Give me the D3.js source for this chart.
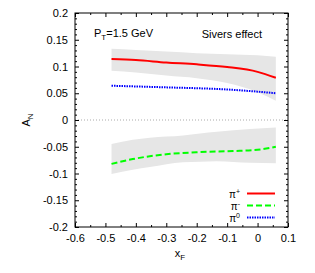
<!DOCTYPE html>
<html><head><meta charset="utf-8">
<script src="https://cdn.jsdelivr.net/npm/d3@7"></script>
<style>body{margin:0;background:#fff}svg text{font-family:"Liberation Sans",Arial,sans-serif;}</style>
</head><body><svg id="c" width="315" height="273"></svg>
<script>
const xTicks=[-0.6,-0.5,-0.4,-0.3,-0.2,-0.1,0,0.1];
const yTicks=[-0.2,-0.15,-0.1,-0.05,0,0.05,0.1,0.15,0.2];
const xTickLabels=["-0.6","-0.5","-0.4","-0.3","-0.2","-0.1","0","0.1"];
const yTickLabels=["-0.2","-0.15","-0.1","-0.05","0","0.05","0.1","0.15","0.2"];
// pi+ curve and band
const piPlusX=[-0.48,-0.4,-0.3,-0.2,-0.1,0,0.06];
const piPlus=[0.114,0.112,0.1075,0.104,0.099,0.090,0.079];
const piPlusBandX=[-0.48,-0.4,-0.3,-0.2,-0.1,0,0.06];
const piPlusHi=[0.133,0.131,0.128,0.125,0.123,0.121,0.118];
const piPlusLo=[0.092,0.089,0.083,0.078,0.069,0.052,0.036];
// pi- curve and band
const piMinusX=[-0.48,-0.41,-0.3,-0.19,-0.08,0.01,0.06];
const piMinus=[-0.082,-0.073,-0.064,-0.060,-0.058,-0.055,-0.050];
const piMinusBandX=[-0.48,-0.41,-0.354,-0.245,-0.189,-0.134,-0.025,0.06];
const piMinusHi=[-0.045,-0.037,-0.033,-0.029,-0.025,-0.022,-0.017,-0.014];
const piMinusLo=[-0.101,-0.093,-0.088,-0.079,-0.078,-0.077,-0.080,-0.081];
// pi0 curve
const piZeroX=[-0.48,-0.3,-0.1,0,0.06];
const piZero=[0.064,0.061,0.057,0.053,0.050];

const svg=d3.select("#c");
const L=75,R=288,T=13,B=227;
const x=d3.scaleLinear().domain([-0.6,0.1]).range([L,R]);
const y=d3.scaleLinear().domain([-0.2,0.2]).range([B,T]);

function band(xs,lo,hi){
  const a=d3.area().x((d,i)=>x(xs[i])).y0((d,i)=>y(lo[i])).y1((d,i)=>y(hi[i])).curve(d3.curveMonotoneX);
  svg.append("path").attr("d",a(xs)).attr("fill","#e6e6e6");
}
band(piPlusBandX,piPlusLo,piPlusHi);
band(piMinusBandX,piMinusLo,piMinusHi);

// zero line
svg.append("line").attr("x1",L).attr("x2",R).attr("y1",y(0)).attr("y2",y(0))
  .attr("stroke","#aaa").attr("stroke-width",1).attr("stroke-dasharray","1,2");

function curve(xs,ys,color,dash){
  const l=d3.line().x((d,i)=>x(xs[i])).y((d,i)=>y(ys[i])).curve(d3.curveMonotoneX);
  const p=svg.append("path").attr("d",l(xs)).attr("fill","none").attr("stroke",color).attr("stroke-width",2);
  if(dash)p.attr("stroke-dasharray",dash);
}
curve(piPlusX,piPlus,"#ff0000",null);
curve(piMinusX,piMinus,"#00ff00","6,3");
curve(piZeroX,piZero,"#0000ff","1.5,1");

// axes
const fs="11px";
svg.append("g").attr("transform",`translate(0,${B})`).call(d3.axisBottom(x).tickValues(xTicks).tickSizeInner(-4).tickSizeOuter(0).tickPadding(7).tickFormat((d,i)=>xTickLabels[i]));
svg.append("g").attr("transform",`translate(0,${T})`).call(d3.axisTop(x).tickValues(xTicks).tickSizeInner(-4).tickSizeOuter(0).tickFormat(""));
svg.append("g").attr("transform",`translate(${L},0)`).call(d3.axisLeft(y).tickValues(yTicks).tickSizeInner(-4).tickSizeOuter(0).tickPadding(7).tickFormat((d,i)=>yTickLabels[i]));
svg.append("g").attr("transform",`translate(${R},0)`).call(d3.axisRight(y).tickValues(yTicks).tickSizeInner(-4).tickSizeOuter(0).tickFormat(""));
// minor ticks
const xMinor=d3.range(-0.55,0.1,0.1);
svg.append("g").attr("transform",`translate(0,${B})`).call(d3.axisBottom(x).tickValues(xMinor).tickSizeInner(-2).tickSizeOuter(0).tickFormat(""));
svg.append("g").attr("transform",`translate(0,${T})`).call(d3.axisTop(x).tickValues(xMinor).tickSizeInner(-2).tickSizeOuter(0).tickFormat(""));
const yMinor=d3.range(-19,20).filter(v=>v%5!==0).map(v=>v/100);
svg.append("g").attr("transform",`translate(${L},0)`).call(d3.axisLeft(y).tickValues(yMinor).tickSizeInner(-2).tickSizeOuter(0).tickFormat(""));
svg.append("g").attr("transform",`translate(${R},0)`).call(d3.axisRight(y).tickValues(yMinor).tickSizeInner(-2).tickSizeOuter(0).tickFormat(""));
svg.selectAll(".domain").remove();
svg.selectAll(".tick text").attr("font-size",fs).attr("font-family","Liberation Sans, Arial, sans-serif").attr("fill","#000");
svg.selectAll(".tick line").attr("stroke","#000");
svg.append("rect").attr("x",L).attr("y",T).attr("width",R-L).attr("height",B-T).attr("fill","none").attr("stroke","#000").attr("stroke-width",1);

// titles
const xt=svg.append("text").attr("x",180).attr("y",257).attr("font-size",fs).attr("text-anchor","middle");
xt.append("tspan").text("x");
xt.append("tspan").attr("font-size","8px").attr("dy",3).text("F");
const yt=svg.append("text").attr("transform","translate(30,120) rotate(-90)").attr("font-size",fs).attr("text-anchor","middle");
yt.append("tspan").text("A");
yt.append("tspan").attr("font-size","8px").attr("dy",3).text("N");

const pt=svg.append("text").attr("x",94).attr("y",37).attr("font-size",fs);
pt.append("tspan").text("P");
pt.append("tspan").attr("font-size","8px").attr("dy",3).text("T");
pt.append("tspan").attr("dy",-3).text("=1.5 GeV");
svg.append("text").attr("x",262).attr("y",38).attr("font-size",fs).attr("text-anchor","end").text("Sivers effect");

// legend
const legSup=["+","-","0"];
const legColors=["#ff0000","#00ff00","#0000ff"];
const legDash=[null,"6,3","1.5,1"];
legSup.forEach((s,i)=>{
  const yy=193.5+i*12;
  const ln=svg.append("line").attr("x1",247).attr("x2",275).attr("y1",yy).attr("y2",yy).attr("stroke",legColors[i]).attr("stroke-width",2);
  if(legDash[i])ln.attr("stroke-dasharray",legDash[i]);
  const t=svg.append("text").attr("x",240).attr("y",yy+4).attr("font-size","10px").attr("text-anchor","end");
  t.append("tspan").text("π");
  t.append("tspan").attr("font-size","7px").attr("dy",-4).text(s);
});
</script></body></html>
